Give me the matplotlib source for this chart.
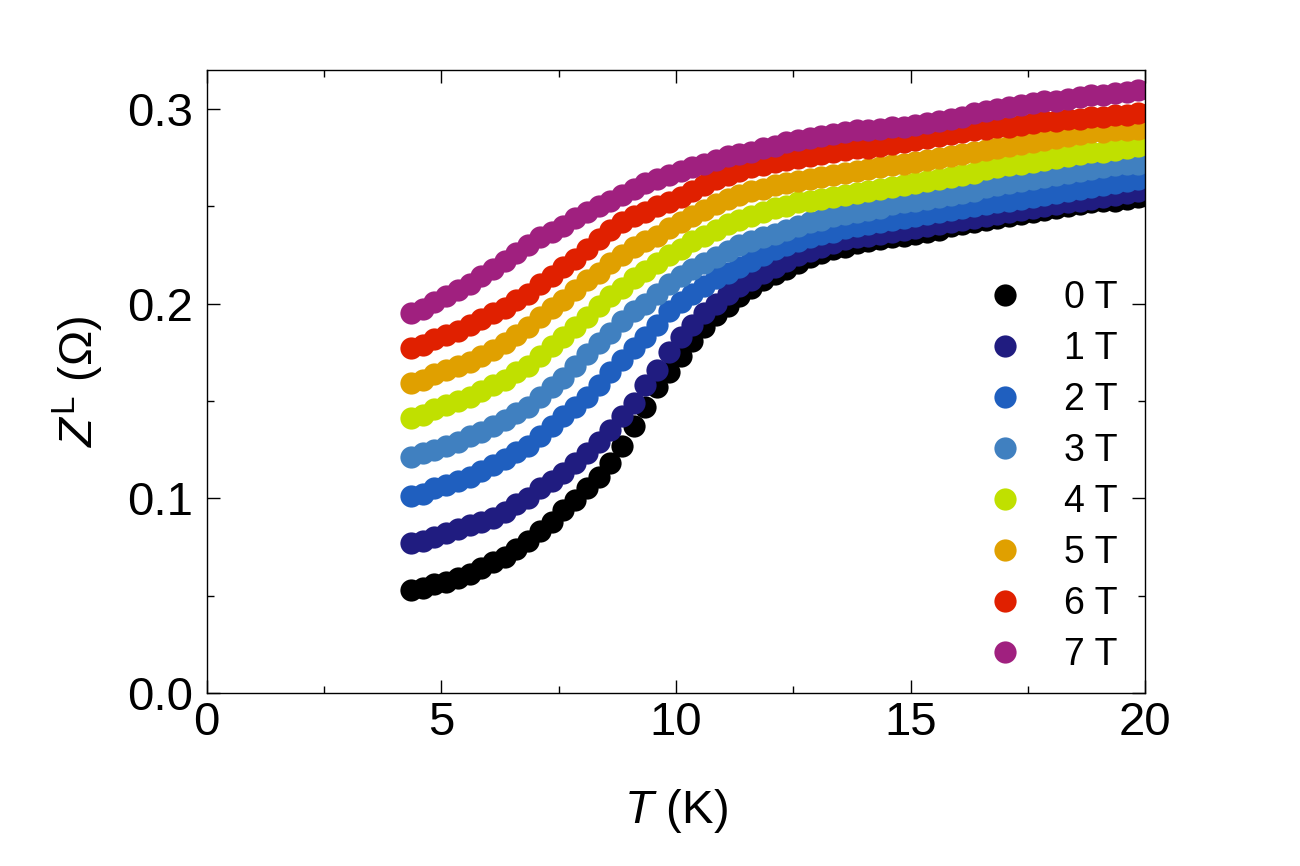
import numpy as np
import matplotlib
matplotlib.use('Agg')
import matplotlib.pyplot as plt
from matplotlib.ticker import MultipleLocator, FormatStrFormatter

plt.rcParams['font.family'] = ['Liberation Sans', 'DejaVu Sans']
plt.rcParams['mathtext.fontset'] = 'custom'
plt.rcParams['mathtext.rm'] = 'Liberation Sans'
plt.rcParams['mathtext.it'] = 'Liberation Sans:italic'

# temperature sweep (K)
T = [4.35, 4.60, 4.85, 5.10, 5.35, 5.60, 5.85, 6.10, 6.35, 6.60, 6.85, 7.10, 7.35,
     7.60, 7.85, 8.10, 8.35, 8.60, 8.85, 9.10, 9.35, 9.60, 9.85, 10.10, 10.35, 10.60,
     10.85, 11.10, 11.35, 11.60, 11.85, 12.10, 12.35, 12.60, 12.85, 13.10, 13.35, 13.60,
     13.85, 14.10, 14.35, 14.60, 14.85, 15.10, 15.35, 15.60, 15.85, 16.10, 16.35, 16.60,
     16.85, 17.10, 17.35, 17.60, 17.85, 18.10, 18.35, 18.60, 18.85, 19.10, 19.35, 19.60,
     19.85, 20.10]

# Z^L (Ohm) for each field
z_0T = [0.053, 0.054, 0.056, 0.057, 0.059, 0.061, 0.064, 0.067, 0.070, 0.074, 0.078, 0.083, 0.088,
        0.094, 0.099, 0.105, 0.111, 0.118, 0.127, 0.137, 0.147, 0.157, 0.165, 0.173, 0.181, 0.188,
        0.194, 0.199, 0.204, 0.208, 0.212, 0.215, 0.218, 0.221, 0.224, 0.226, 0.228, 0.229,
        0.231, 0.232, 0.233, 0.234, 0.235, 0.236, 0.237, 0.238, 0.240, 0.241, 0.242, 0.243,
        0.244, 0.245, 0.246, 0.247, 0.248, 0.249, 0.250, 0.251, 0.252, 0.253, 0.253, 0.254,
        0.255, 0.256]
z_1T = [0.077, 0.078, 0.080, 0.082, 0.084, 0.086, 0.088, 0.090, 0.093, 0.097, 0.100, 0.105, 0.109,
        0.113, 0.118, 0.123, 0.129, 0.135, 0.142, 0.149, 0.158, 0.166, 0.175, 0.183, 0.189, 0.195,
        0.200, 0.205, 0.209, 0.212, 0.216, 0.219, 0.222, 0.225, 0.227, 0.229, 0.231, 0.233,
        0.234, 0.235, 0.236, 0.237, 0.238, 0.239, 0.240, 0.241, 0.242, 0.243, 0.244, 0.245,
        0.246, 0.247, 0.248, 0.249, 0.250, 0.251, 0.252, 0.253, 0.254, 0.255, 0.256, 0.257,
        0.258, 0.259]
z_2T = [0.101, 0.102, 0.105, 0.107, 0.109, 0.111, 0.114, 0.117, 0.120, 0.124, 0.127, 0.132, 0.137,
        0.142, 0.147, 0.152, 0.158, 0.165, 0.171, 0.177, 0.183, 0.189, 0.196, 0.201, 0.205, 0.209,
        0.213, 0.216, 0.219, 0.222, 0.225, 0.228, 0.230, 0.232, 0.234, 0.236, 0.237, 0.239,
        0.240, 0.241, 0.242, 0.243, 0.244, 0.245, 0.246, 0.247, 0.248, 0.249, 0.250, 0.251,
        0.252, 0.253, 0.254, 0.255, 0.256, 0.257, 0.258, 0.259, 0.260, 0.261, 0.262, 0.263,
        0.264, 0.265]
z_3T = [0.121, 0.123, 0.125, 0.127, 0.129, 0.132, 0.134, 0.137, 0.140, 0.144, 0.147, 0.152, 0.157,
        0.162, 0.168, 0.174, 0.180, 0.185, 0.191, 0.196, 0.200, 0.205, 0.210, 0.214, 0.218, 0.221,
        0.224, 0.227, 0.230, 0.232, 0.234, 0.236, 0.238, 0.240, 0.242, 0.243, 0.245, 0.246,
        0.247, 0.248, 0.249, 0.251, 0.252, 0.253, 0.254, 0.255, 0.256, 0.257, 0.258, 0.260,
        0.261, 0.262, 0.263, 0.264, 0.265, 0.266, 0.267, 0.268, 0.269, 0.270, 0.271, 0.272,
        0.272, 0.273]
z_4T = [0.141, 0.143, 0.146, 0.148, 0.150, 0.152, 0.155, 0.158, 0.161, 0.165, 0.168, 0.173, 0.178,
        0.183, 0.188, 0.193, 0.199, 0.204, 0.208, 0.213, 0.217, 0.221, 0.225, 0.228, 0.232, 0.235,
        0.238, 0.241, 0.243, 0.245, 0.247, 0.249, 0.250, 0.252, 0.253, 0.254, 0.255, 0.256,
        0.257, 0.258, 0.259, 0.260, 0.261, 0.262, 0.263, 0.264, 0.265, 0.266, 0.267, 0.269,
        0.270, 0.271, 0.272, 0.273, 0.274, 0.275, 0.276, 0.277, 0.278, 0.278, 0.279, 0.280,
        0.281, 0.281]
z_5T = [0.159, 0.161, 0.164, 0.166, 0.168, 0.170, 0.173, 0.176, 0.180, 0.184, 0.188, 0.193, 0.198,
        0.202, 0.207, 0.212, 0.216, 0.221, 0.225, 0.229, 0.232, 0.235, 0.239, 0.242, 0.245, 0.248,
        0.251, 0.254, 0.256, 0.258, 0.259, 0.261, 0.262, 0.263, 0.264, 0.265, 0.266, 0.267,
        0.268, 0.269, 0.270, 0.271, 0.272, 0.273, 0.274, 0.275, 0.276, 0.277, 0.278, 0.279,
        0.280, 0.281, 0.282, 0.283, 0.284, 0.285, 0.286, 0.287, 0.288, 0.288, 0.289, 0.289,
        0.290, 0.290]
z_6T = [0.177, 0.179, 0.182, 0.184, 0.186, 0.189, 0.192, 0.195, 0.198, 0.202, 0.205, 0.210, 0.214,
        0.219, 0.223, 0.228, 0.233, 0.238, 0.242, 0.245, 0.247, 0.250, 0.252, 0.255, 0.258, 0.261,
        0.264, 0.266, 0.268, 0.270, 0.271, 0.273, 0.274, 0.275, 0.276, 0.277, 0.278, 0.279,
        0.280, 0.280, 0.281, 0.282, 0.283, 0.284, 0.285, 0.286, 0.287, 0.288, 0.289, 0.290,
        0.291, 0.291, 0.292, 0.293, 0.294, 0.294, 0.295, 0.295, 0.296, 0.296, 0.297, 0.297,
        0.298, 0.298]
z_7T = [0.195, 0.197, 0.201, 0.204, 0.207, 0.210, 0.214, 0.218, 0.222, 0.226, 0.230, 0.234, 0.237,
        0.240, 0.244, 0.247, 0.250, 0.253, 0.256, 0.259, 0.262, 0.264, 0.266, 0.268, 0.270, 0.272,
        0.274, 0.276, 0.277, 0.278, 0.280, 0.281, 0.283, 0.284, 0.285, 0.286, 0.287, 0.288,
        0.289, 0.289, 0.290, 0.291, 0.291, 0.292, 0.293, 0.294, 0.295, 0.296, 0.298, 0.299,
        0.300, 0.301, 0.302, 0.303, 0.304, 0.304, 0.305, 0.306, 0.307, 0.307, 0.308, 0.309,
        0.310, 0.310]

fields = ['0 T', '1 T', '2 T', '3 T', '4 T', '5 T', '6 T', '7 T']
series = [z_0T, z_1T, z_2T, z_3T, z_4T, z_5T, z_6T, z_7T]
colors = ['#000000', '#201C80', '#1F5FBF', '#4080C0', '#C0E000', '#E0A000', '#E02000', '#A0207F']

fig = plt.figure(figsize=(13, 8.66), dpi=100)
ax = fig.add_axes([0.159, 0.2, 0.722, 0.719])

for lab, z, c in zip(fields, series, colors):
    ax.plot(T, z, 'o', ms=16, color=c, mec=c, mew=0, label=lab)

ax.set_xlim(0, 20)
ax.set_ylim(0, 0.32)
ax.xaxis.set_major_locator(MultipleLocator(5))
ax.xaxis.set_minor_locator(MultipleLocator(2.5))
ax.yaxis.set_major_locator(MultipleLocator(0.1))
ax.yaxis.set_minor_locator(MultipleLocator(0.05))
ax.yaxis.set_major_formatter(FormatStrFormatter('%.1f'))

ax.tick_params(which='both', direction='in', top=True, right=True, width=1.0, labelsize=34)
ax.tick_params(axis='x', pad=6)
ax.tick_params(axis='y', pad=10)
ax.tick_params(which='major', length=9.5)
ax.tick_params(which='minor', length=5)
for s in ax.spines.values():
    s.set_linewidth(1.0)

ax.set_xlabel(r'$T$ (K)', fontsize=34, labelpad=30)
ax.set_ylabel(r'$Z^{\mathrm{L}}$ ($\Omega$)', fontsize=34, labelpad=15)

ax.legend(loc='upper left', bbox_to_anchor=(0.811, 0.693), frameon=False, fontsize=27,
          handlelength=1.0, handletextpad=1.05, labelspacing=0.40, borderpad=0, markerscale=1.0)

fig.savefig('out.png', dpi=100)
